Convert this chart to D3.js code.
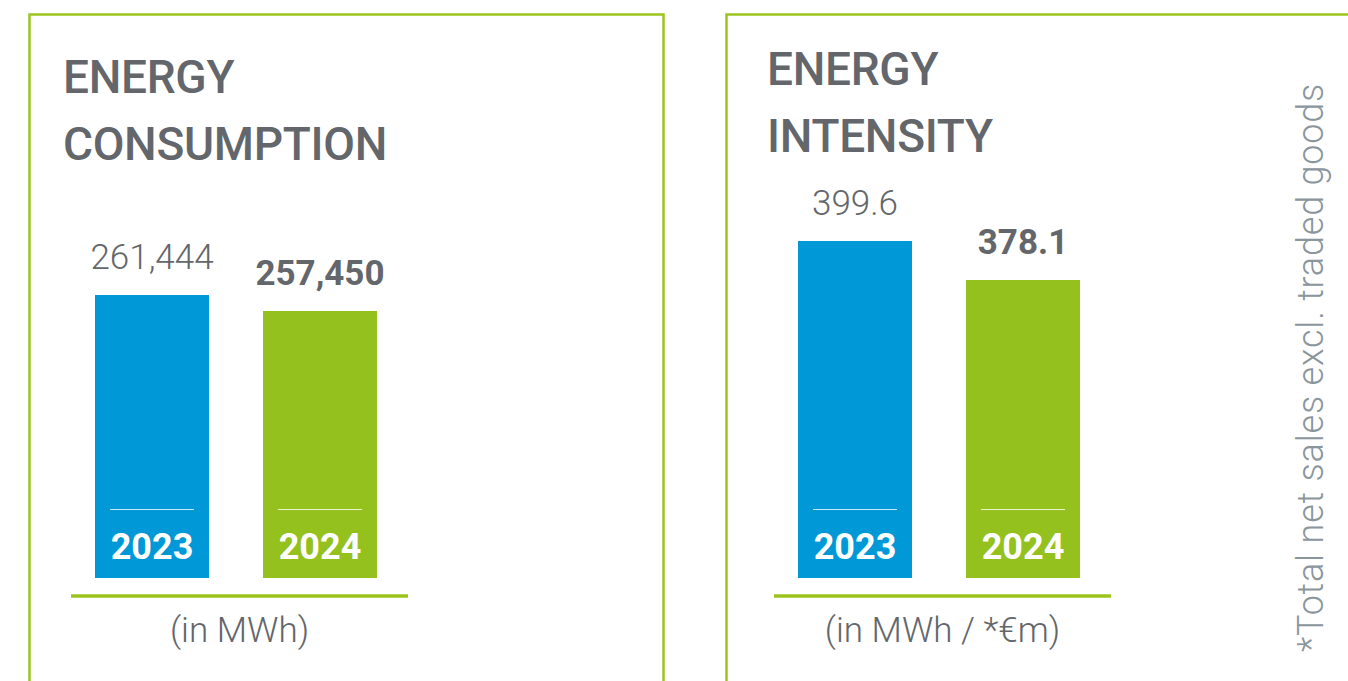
<!DOCTYPE html>
<html>
<head>
<meta charset="utf-8">
<script src="https://cdn.jsdelivr.net/npm/d3@7"></script>
<style>
  html, body { margin: 0; padding: 0; background: #fff; }
  svg { display: block; font-family: Roboto, "DejaVu Sans", sans-serif; }
</style>
</head>
<body>
<svg id="chart" width="1348" height="681"></svg>
<script>
// values
const years = ["2023", "2024"];
const consumption = [261444, 257450];
const intensity = [399.6, 378.1];
const consumptionLabels = ["261,444", "257,450"];
const intensityLabels = ["399.6", "378.1"];
const barColors = ["#0098d6", "#95c11f"];

const green = "#9cc41d";
const grey = "#63666a";

const svg = d3.select("#chart");

// panel frames
svg.append("rect")
  .attr("x", 29.5).attr("y", 14.5)
  .attr("width", 634).attr("height", 700)
  .attr("fill", "none").attr("stroke", green).attr("stroke-width", 2.5);

svg.append("rect")
  .attr("x", 726.5).attr("y", 14.5)
  .attr("width", 700).attr("height", 700)
  .attr("fill", "none").attr("stroke", green).attr("stroke-width", 2.5);

const panels = [
  {
    title: ["ENERGY", "CONSUMPTION"], titleX: 63, titleY: 93,
    values: consumption, labels: consumptionLabels,
    xRange: [95, 377], yDomain: [190800, 261444], yTop: 295,
    unit: "(in MWh)"
  },
  {
    title: ["ENERGY", "INTENSITY"], titleX: 767, titleY: 85,
    values: intensity, labels: intensityLabels,
    xRange: [798, 1080], yDomain: [213.8, 399.6], yTop: 241,
    unit: "(in MWh / *€m)"
  }
];

const baseY = 578;

panels.forEach(p => {
  const g = svg.append("g");

  // title, two lines
  p.title.forEach((t, i) => {
    g.append("text")
      .attr("x", p.titleX)
      .attr("y", p.titleY + i * 67)
      .attr("fill", grey)
      .attr("font-size", 46)
      .attr("font-weight", 500)
      .attr("letter-spacing", -0.3)
      .text(t);
  });

  const x = d3.scaleBand()
    .domain(years)
    .range(p.xRange)
    .paddingInner(54 / 168)
    .paddingOuter(0);

  const y = d3.scaleLinear()
    .domain(p.yDomain)
    .range([baseY, p.yTop]);

  const bw = x.bandwidth();

  years.forEach((yr, i) => {
    const x0 = x(yr);
    const v = p.values[i];

    g.append("rect")
      .attr("x", x0)
      .attr("y", y(v))
      .attr("width", bw)
      .attr("height", baseY - y(v))
      .attr("fill", barColors[i]);

    // thin white rule inside the bar
    g.append("line")
      .attr("x1", x0 + 15).attr("x2", x0 + bw - 15)
      .attr("y1", 509.5).attr("y2", 509.5)
      .attr("stroke", "#fff").attr("stroke-opacity", 0.8).attr("stroke-width", 1);

    // year inside bar
    g.append("text")
      .attr("x", x0 + bw / 2)
      .attr("y", 559)
      .attr("text-anchor", "middle")
      .attr("fill", "#fff")
      .attr("font-size", 36)
      .attr("font-weight", 700)
      .text(yr);

    // value on top
    g.append("text")
      .attr("x", x0 + bw / 2)
      .attr("y", y(v) - 26)
      .attr("text-anchor", "middle")
      .attr("fill", grey)
      .attr("font-size", 35)
      .attr("font-weight", i === 0 ? 300 : 700)
      .text(p.labels[i]);
  });

  // green base line
  const lx1 = p.xRange[0] - 24, lx2 = p.xRange[1] + 31;
  g.append("line")
    .attr("x1", lx1).attr("x2", lx2)
    .attr("y1", 596).attr("y2", 596)
    .attr("stroke", green).attr("stroke-width", 3.5);

  // unit
  g.append("text")
    .attr("x", (lx1 + lx2) / 2)
    .attr("y", 642)
    .attr("text-anchor", "middle")
    .attr("fill", grey)
    .attr("font-size", 35)
    .attr("font-weight", 300)
    .text(p.unit);
});

// footnote, rotated
svg.append("text")
  .attr("transform", "translate(1323, 652) rotate(-90)")
  .attr("fill", "#8a959c")
  .attr("font-size", 36)
  .attr("font-weight", 300)
  .attr("letter-spacing", 0.8)
  .text("*Total net sales excl. traded goods");
</script>
</body>
</html>
